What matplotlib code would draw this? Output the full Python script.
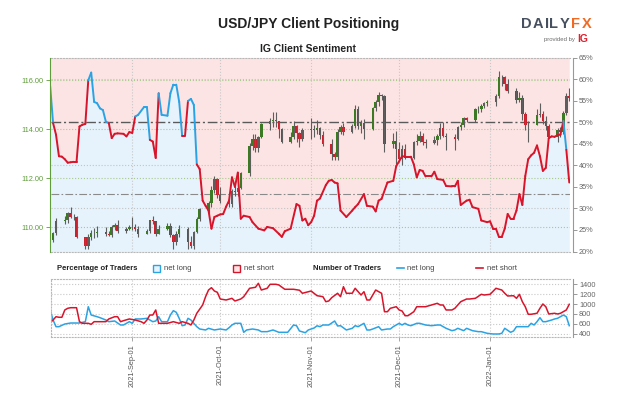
import numpy as np
import pandas as pd
import matplotlib
matplotlib.use("Agg")
import matplotlib.pyplot as plt
import matplotlib.dates as mdates
from matplotlib.collections import LineCollection
from matplotlib.patches import Rectangle
from matplotlib.lines import Line2D

plt.rcParams['font.family'] = ['Liberation Sans', 'DejaVu Sans']

# daily USD/JPY candles, 2021-08-05 .. 2022-01-28 (weekdays)
candle_dates = pd.bdate_range('2021-08-05', '2022-01-28')
opens = [
    109.48, 109.77, 110.25, 110.27, 110.58, 110.41, 110.41, 109.59, 109.24, 109.61, 109.77, 109.76, 109.79, 109.71, 109.68, 110.02, 110.09, 109.84, 109.92,
    110.02, 110.00, 109.93, 109.71, 109.84, 110.27, 110.24, 109.72, 109.93, 110.06, 109.68, 109.37, 109.72, 109.93, 109.40, 109.23, 109.78, 110.31, 110.74, 111.00, 111.50, 111.97,
    111.29, 111.05, 110.93, 111.45, 111.41, 111.61, 112.22, 113.31, 113.59, 113.24, 113.69, 114.21, 114.33, 114.38, 114.33, 113.99, 113.47, 113.68, 114.14, 113.84, 113.58,
    113.98, 114.02, 113.96, 114.03, 113.77, 113.39, 112.98, 112.85, 113.89, 114.07, 113.87, 114.11, 114.83, 114.11, 114.25, 114.00, 114.84, 115.12, 115.37, 115.36, 113.38, 113.50,
    113.17, 112.79, 113.18, 112.82, 113.45, 113.53, 113.71, 113.47, 113.41, 113.56, 113.73, 114.04, 113.72, 113.67, 113.59, 114.08, 114.16, 114.44, 114.38, 114.83, 114.83, 114.95, 115.08,
    115.09, 115.33, 116.11, 116.13, 115.85, 115.56, 115.20, 115.28, 114.63, 114.17, 114.18, 114.59, 114.60, 114.31, 114.13, 113.67, 113.98, 113.87, 114.66, 115.34,
]
highs = [
    109.80, 110.37, 110.45, 110.63, 110.80, 110.52, 110.44, 109.61, 109.70, 109.86, 109.96, 110.05, 109.98, 109.83, 110.07, 110.17, 110.27, 110.00, 110.10,
    110.42, 110.13, 110.05, 109.90, 110.30, 110.44, 110.26, 110.09, 110.16, 110.16, 109.72, 109.82, 110.08, 110.00, 109.64, 109.84, 110.39, 110.79, 111.07, 111.68, 112.08, 112.01,
    111.63, 111.17, 111.54, 111.80, 111.77, 112.25, 113.42, 113.79, 113.81, 113.72, 114.25, 114.46, 114.70, 114.69, 114.34, 114.04, 113.89, 114.31, 114.15, 113.88, 114.04,
    114.43, 114.15, 114.37, 114.07, 113.90, 113.58, 113.07, 113.99, 114.16, 114.23, 114.21, 114.97, 114.96, 114.38, 114.40, 114.90, 115.18, 115.52, 115.45, 115.40, 113.85, 113.90,
    113.49, 113.34, 113.37, 113.52, 113.81, 113.93, 113.84, 113.60, 113.70, 113.80, 114.25, 114.28, 113.83, 113.80, 114.11, 114.30, 114.50, 114.48, 114.87, 114.95, 115.04, 115.10, 115.17,
    115.42, 116.35, 116.20, 116.18, 116.04, 115.68, 115.52, 115.38, 114.71, 114.33, 114.82, 115.06, 114.73, 114.55, 114.21, 114.05, 114.08, 114.75, 115.48, 115.69,
]
lows = [
    109.40, 109.67, 110.12, 110.18, 110.35, 110.29, 109.55, 109.12, 109.11, 109.46, 109.54, 109.60, 109.64, 109.63, 109.60, 109.89, 109.77, 109.76, 109.87,
    109.86, 109.83, 109.59, 109.70, 109.77, 110.12, 109.62, 109.70, 109.88, 109.59, 109.11, 109.27, 109.61, 109.11, 109.13, 109.10, 109.74, 110.23, 110.55, 110.83, 111.38, 111.19,
    110.96, 110.82, 110.80, 111.25, 111.27, 111.56, 112.09, 113.15, 113.08, 113.06, 113.65, 113.94, 114.08, 114.07, 113.63, 113.41, 113.42, 113.60, 113.47, 113.25, 113.50,
    113.60, 113.68, 113.80, 113.58, 113.29, 112.73, 112.72, 112.72, 113.80, 113.77, 113.82, 114.06, 114.00, 113.83, 113.59, 113.96, 114.75, 114.94, 115.20, 113.05, 113.24, 112.57,
    112.65, 112.53, 112.77, 112.77, 113.33, 113.47, 113.36, 113.23, 113.38, 113.36, 113.60, 113.67, 113.14, 113.14, 113.55, 113.95, 114.10, 114.30, 114.30, 114.65, 114.71, 114.87, 114.96,
    114.96, 115.28, 115.77, 115.61, 115.48, 115.07, 115.10, 114.38, 113.98, 113.48, 114.17, 114.51, 114.20, 113.97, 113.62, 113.47, 113.69, 113.78, 114.59, 115.14,
]
closes = [
    109.77, 110.25, 110.27, 110.58, 110.41, 110.41, 109.59, 109.24, 109.61, 109.77, 109.76, 109.79, 109.71, 109.68, 110.02, 110.09, 109.84, 109.92, 110.02,
    110.00, 109.93, 109.71, 109.84, 110.27, 110.24, 109.72, 109.93, 110.06, 109.68, 109.37, 109.72, 109.93, 109.40, 109.23, 109.78, 110.31, 110.74, 111.00, 111.50, 111.97, 111.29,
    111.05, 110.93, 111.45, 111.41, 111.61, 112.22, 113.31, 113.59, 113.24, 113.69, 114.21, 114.33, 114.38, 114.33, 113.99, 113.47, 113.68, 114.14, 113.84, 113.58, 113.98,
    114.02, 113.96, 114.03, 113.77, 113.39, 112.98, 112.85, 113.89, 114.07, 113.87, 114.11, 114.83, 114.11, 114.25, 114.00, 114.84, 115.12, 115.37, 115.36, 113.38, 113.50, 113.17,
    112.79, 113.18, 112.82, 113.45, 113.53, 113.71, 113.47, 113.41, 113.56, 113.73, 114.04, 113.72, 113.67, 113.59, 114.08, 114.16, 114.44, 114.38, 114.83, 114.83, 114.95, 115.08, 115.09,
    115.33, 116.11, 116.13, 115.85, 115.56, 115.20, 115.28, 114.63, 114.17, 114.18, 114.59, 114.60, 114.31, 114.13, 113.67, 113.98, 113.87, 114.66, 115.34, 115.26,
]

# IG client sentiment: % of traders net long
sent_dates = [
    '2021-08-04', '2021-08-05', '2021-08-06', '2021-08-07', '2021-08-08', '2021-08-09', '2021-08-10', '2021-08-11', '2021-08-12', '2021-08-13',
    '2021-08-14', '2021-08-15', '2021-08-16', '2021-08-17', '2021-08-18', '2021-08-19', '2021-08-20', '2021-08-21', '2021-08-22', '2021-08-23',
    '2021-08-24', '2021-08-25', '2021-08-26', '2021-08-27', '2021-08-29', '2021-08-30', '2021-08-31', '2021-09-01', '2021-09-02', '2021-09-03',
    '2021-09-05', '2021-09-06', '2021-09-07', '2021-09-08', '2021-09-09', '2021-09-10', '2021-09-11', '2021-09-13', '2021-09-14', '2021-09-15',
    '2021-09-16', '2021-09-17', '2021-09-18', '2021-09-19', '2021-09-20', '2021-09-21', '2021-09-22', '2021-09-23', '2021-09-24', '2021-09-25',
    '2021-09-26', '2021-09-27', '2021-09-28', '2021-09-29', '2021-09-30', '2021-10-01', '2021-10-02', '2021-10-03', '2021-10-04', '2021-10-05',
    '2021-10-06', '2021-10-07', '2021-10-08', '2021-10-09', '2021-10-11', '2021-10-12', '2021-10-14', '2021-10-16', '2021-10-17', '2021-10-19',
    '2021-10-21', '2021-10-22', '2021-10-23', '2021-10-25', '2021-10-27', '2021-10-28', '2021-10-29', '2021-10-30', '2021-10-31', '2021-11-01',
    '2021-11-02', '2021-11-03', '2021-11-04', '2021-11-06', '2021-11-07', '2021-11-08', '2021-11-09', '2021-11-10', '2021-11-11', '2021-11-13',
    '2021-11-15', '2021-11-16', '2021-11-17', '2021-11-19', '2021-11-20', '2021-11-22', '2021-11-23', '2021-11-24', '2021-11-25', '2021-11-27',
    '2021-11-29', '2021-11-30', '2021-12-02', '2021-12-03', '2021-12-05', '2021-12-06', '2021-12-07', '2021-12-08', '2021-12-09', '2021-12-10',
    '2021-12-12', '2021-12-13', '2021-12-14', '2021-12-16', '2021-12-17', '2021-12-19', '2021-12-20', '2021-12-21', '2021-12-22', '2021-12-24',
    '2021-12-25', '2021-12-26', '2021-12-28', '2021-12-29', '2021-12-31', '2022-01-01', '2022-01-02', '2022-01-03', '2022-01-04', '2022-01-05',
    '2022-01-06', '2022-01-07', '2022-01-08', '2022-01-09', '2022-01-10', '2022-01-11', '2022-01-12', '2022-01-13', '2022-01-14', '2022-01-15',
    '2022-01-16', '2022-01-17', '2022-01-18', '2022-01-19', '2022-01-20', '2022-01-21', '2022-01-22', '2022-01-23', '2022-01-24', '2022-01-25',
    '2022-01-26', '2022-01-27', '2022-01-28',
]
sent_long = [
    58.4, 49.8, 47.1, 42.1, 42.0, 41.4, 40.6, 40.7, 40.8, 40.8,
    49.0, 49.4, 49.6, 59.7, 61.5, 54.7, 54.4, 53.2, 52.8, 50.1,
    49.8, 46.3, 47.3, 47.4, 47.3, 46.7, 47.7, 47.5, 51.3, 51.7,
    53.5, 53.5, 45.9, 45.5, 41.7, 56.7, 51.7, 51.5, 56.7, 58.7,
    58.7, 54.7, 46.9, 46.9, 54.9, 55.4, 54.0, 40.2, 39.1, 31.8,
    30.6, 29.5, 25.3, 28.0, 28.3, 28.6, 28.7, 30.4, 31.8, 37.2,
    35.0, 38.3, 27.6, 28.3, 28.0, 26.8, 25.3, 24.9, 25.7, 25.4,
    24.1, 23.4, 24.7, 25.3, 31.0, 30.6, 27.2, 27.6, 26.1, 26.8,
    28.3, 31.8, 32.3, 35.4, 36.4, 36.6, 36.0, 35.8, 29.5, 28.0,
    29.5, 30.3, 31.0, 33.3, 30.6, 30.4, 29.3, 31.8, 32.2, 36.0,
    36.4, 39.8, 42.1, 42.0, 42.0, 40.2, 37.2, 38.9, 38.7, 37.4,
    37.4, 38.5, 36.8, 36.6, 35.2, 35.1, 35.1, 36.4, 30.8, 31.8,
    32.0, 30.3, 29.9, 27.2, 26.8, 27.0, 25.3, 25.3, 23.4, 23.4,
    25.3, 28.7, 27.6, 27.6, 29.5, 33.3, 30.8, 37.5, 41.4, 42.3,
    42.9, 44.6, 42.1, 38.7, 39.4, 46.3, 46.7, 46.6, 47.0, 47.1,
    50.3, 43.6, 36.0,
]

# number of traders
short_dates = [
    '2021-08-04', '2021-08-05', '2021-08-06', '2021-08-07', '2021-08-08', '2021-08-09', '2021-08-10', '2021-08-11', '2021-08-13', '2021-08-14',
    '2021-08-15', '2021-08-17', '2021-08-18', '2021-08-19', '2021-08-21', '2021-08-23', '2021-08-24', '2021-08-26', '2021-08-27', '2021-08-28',
    '2021-08-29', '2021-08-31', '2021-09-02', '2021-09-04', '2021-09-05', '2021-09-06', '2021-09-07', '2021-09-08', '2021-09-09', '2021-09-10',
    '2021-09-12', '2021-09-13', '2021-09-15', '2021-09-17', '2021-09-18', '2021-09-20', '2021-09-21', '2021-09-22', '2021-09-23', '2021-09-25',
    '2021-09-26', '2021-09-27', '2021-09-28', '2021-09-29', '2021-09-30', '2021-10-01', '2021-10-03', '2021-10-05', '2021-10-06', '2021-10-08',
    '2021-10-09', '2021-10-11', '2021-10-13', '2021-10-14', '2021-10-15', '2021-10-17', '2021-10-18', '2021-10-20', '2021-10-21', '2021-10-23',
    '2021-10-25', '2021-10-26', '2021-10-28', '2021-10-29', '2021-10-31', '2021-11-01', '2021-11-03', '2021-11-05', '2021-11-06', '2021-11-07',
    '2021-11-08', '2021-11-10', '2021-11-11', '2021-11-12', '2021-11-13', '2021-11-15', '2021-11-16', '2021-11-17', '2021-11-18', '2021-11-19',
    '2021-11-20', '2021-11-21', '2021-11-23', '2021-11-24', '2021-11-25', '2021-11-26', '2021-11-27', '2021-11-28', '2021-11-30', '2021-12-01',
    '2021-12-02', '2021-12-03', '2021-12-04', '2021-12-06', '2021-12-07', '2021-12-08', '2021-12-10', '2021-12-12', '2021-12-14', '2021-12-15',
    '2021-12-16', '2021-12-17', '2021-12-19', '2021-12-20', '2021-12-22', '2021-12-24', '2021-12-25', '2021-12-27', '2021-12-29', '2021-12-30',
    '2022-01-01', '2022-01-03', '2022-01-05', '2022-01-06', '2022-01-07', '2022-01-09', '2022-01-10', '2022-01-11', '2022-01-12', '2022-01-13',
    '2022-01-14', '2022-01-15', '2022-01-17', '2022-01-18', '2022-01-19', '2022-01-20', '2022-01-21', '2022-01-23', '2022-01-24', '2022-01-25',
    '2022-01-27', '2022-01-28',
]
short_traders = [
    623, 677, 744, 732, 732, 880, 914, 926, 926, 643,
    610, 610, 590, 643, 643, 643, 698, 744, 744, 643,
    663, 698, 677, 643, 610, 677, 778, 778, 880, 610,
    610, 610, 643, 610, 643, 610, 576, 677, 813, 981,
    1149, 1284, 1331, 1264, 1238, 1102, 1082, 1116, 1062, 1102,
    1149, 1319, 1339, 1420, 1284, 1319, 1400, 1400, 1386, 1299,
    1299, 1299, 1280, 1218, 1250, 1264, 1169, 1149, 1048, 1062,
    1129, 1218, 1149, 1351, 1218, 1218, 1319, 1250, 1183, 1250,
    1082, 1082, 1284, 1250, 1218, 845, 845, 914, 946, 880,
    859, 764, 764, 845, 946, 946, 946, 981, 1015, 981,
    981, 880, 880, 914, 1048, 1102, 1102, 1116, 1197, 1183,
    1197, 1319, 1284, 1218, 1163, 1169, 1116, 1197, 1048, 946,
    793, 793, 813, 914, 1001, 946, 799, 813, 799, 813,
    880, 995,
]
long_dates = [
    '2021-08-04', '2021-08-05', '2021-08-06', '2021-08-07', '2021-08-09', '2021-08-11', '2021-08-12', '2021-08-14', '2021-08-16', '2021-08-17',
    '2021-08-18', '2021-08-20', '2021-08-21', '2021-08-23', '2021-08-24', '2021-08-26', '2021-08-28', '2021-08-29', '2021-08-31', '2021-09-01',
    '2021-09-02', '2021-09-04', '2021-09-06', '2021-09-08', '2021-09-09', '2021-09-10', '2021-09-11', '2021-09-13', '2021-09-14', '2021-09-15',
    '2021-09-16', '2021-09-17', '2021-09-18', '2021-09-19', '2021-09-20', '2021-09-21', '2021-09-23', '2021-09-24', '2021-09-26', '2021-09-27',
    '2021-09-29', '2021-10-01', '2021-10-03', '2021-10-04', '2021-10-05', '2021-10-06', '2021-10-08', '2021-10-09', '2021-10-10', '2021-10-12',
    '2021-10-14', '2021-10-15', '2021-10-17', '2021-10-19', '2021-10-21', '2021-10-22', '2021-10-24', '2021-10-26', '2021-10-27', '2021-10-28',
    '2021-10-30', '2021-10-31', '2021-11-02', '2021-11-03', '2021-11-04', '2021-11-05', '2021-11-07', '2021-11-09', '2021-11-10', '2021-11-11',
    '2021-11-13', '2021-11-15', '2021-11-16', '2021-11-17', '2021-11-19', '2021-11-20', '2021-11-21', '2021-11-22', '2021-11-24', '2021-11-25',
    '2021-11-27', '2021-11-28', '2021-11-29', '2021-11-30', '2021-12-01', '2021-12-02', '2021-12-03', '2021-12-04', '2021-12-05', '2021-12-07',
    '2021-12-08', '2021-12-10', '2021-12-12', '2021-12-14', '2021-12-15', '2021-12-17', '2021-12-19', '2021-12-20', '2021-12-21', '2021-12-23',
    '2021-12-24', '2021-12-26', '2021-12-28', '2021-12-29', '2021-12-31', '2022-01-02', '2022-01-04', '2022-01-05', '2022-01-06', '2022-01-08',
    '2022-01-09', '2022-01-10', '2022-01-12', '2022-01-14', '2022-01-15', '2022-01-16', '2022-01-17', '2022-01-18', '2022-01-19', '2022-01-20',
    '2022-01-22', '2022-01-23', '2022-01-24', '2022-01-26', '2022-01-27', '2022-01-28',
]
long_traders = [
    880, 677, 542, 542, 596, 616, 616, 616, 643, 946,
    778, 744, 724, 677, 643, 657, 576, 576, 643, 610,
    698, 698, 711, 643, 657, 744, 643, 643, 778, 866,
    833, 711, 562, 576, 711, 677, 542, 495, 475, 509,
    475, 495, 475, 521, 576, 610, 610, 428, 475, 495,
    475, 441, 441, 475, 428, 428, 428, 576, 562, 455,
    420, 475, 515, 560, 542, 576, 576, 657, 556, 562,
    475, 509, 562, 542, 610, 475, 475, 495, 542, 475,
    495, 495, 542, 576, 610, 576, 610, 576, 562, 610,
    610, 576, 562, 576, 576, 509, 461, 475, 509, 461,
    509, 461, 441, 441, 408, 394, 394, 408, 509, 428,
    455, 542, 542, 542, 610, 576, 643, 724, 643, 643,
    677, 698, 711, 778, 744, 562,
]

BLUE = '#2aa3e4'
RED = '#d8142b'
GREEN_TXT = '#5f9c3a'
GREY_TXT = '#666666'

fig = plt.figure(figsize=(6.24, 4.16), dpi=100)
L, W = 51 / 624, 519 / 624
ax = fig.add_axes([L, 1 - 251.5 / 416, W, 194 / 416])
ax_px = ax.twinx()
ax_ln = ax.twinx()
axb = fig.add_axes([L, 1 - 337 / 416, W, 58 / 416], sharex=ax)

sd = pd.to_datetime(sent_dates)
sv = np.array(sent_long)

# sentiment background
ax.fill_between(sd, sv, 20, color='#e6f3fc', lw=0)
ax.fill_between(sd, sv, 65, color='#fde4e4', lw=0)
ax.set_ylim(20, 65)
for v in (30, 40, 60):
    ax.axhline(v, color='#c4c4c4', ls=':', lw=0.8)
ax.axhline(50, color='#5a5a5a', ls=(0, (7, 2, 1.5, 2)), lw=1.0)
ax.axhline(33.3, color='#8a8a8a', ls=(0, (7, 2, 1.5, 2)), lw=0.8)

ax.set_xlim(pd.Timestamp('2021-08-04 07:00'), pd.Timestamp('2022-01-28 06:00'))
ax.xaxis.set_major_locator(mdates.MonthLocator())
ax.grid(axis='x', color='#c8c8c8', ls=':', lw=0.8)
ax.tick_params(axis='x', labelbottom=False, length=0)
ax.yaxis.tick_right()
ax.set_yticks(range(20, 66, 5))
ax.set_yticklabels([f'{v}%' for v in range(20, 66, 5)])
ax.tick_params(axis='y', colors='#888888', labelcolor=GREY_TXT, labelsize=5.3, length=3, width=0.6, pad=1.5)
ax.spines['left'].set_visible(False)
ax.spines['right'].set_color('#999999')
ax.spines['right'].set_position(('outward', 2))
for s in ('top', 'bottom'):
    ax.spines[s].set_linestyle(':')
    ax.spines[s].set_color('#b8b8b8')
    ax.spines[s].set_linewidth(0.8)

# price candles
o = np.array(opens)
h = np.array(highs)
lo = np.array(lows)
c = np.array(closes)
cols = np.where(c >= o, '#3a7b1f', '#d01f2c')
ax_px.vlines(candle_dates, lo, h, color='#5e5e5e', lw=0.8)
ax_px.bar(candle_dates, c - o, bottom=o, width=0.85, color=cols, lw=0)
ax_px.set_ylim(109.0, 116.92)
ax_px.set_yticks([110, 112, 114, 116])
ax_px.set_yticklabels([f'{v:.2f}' for v in [110, 112, 114, 116]])
ax_px.yaxis.tick_left()
ax_px.tick_params(axis='y', colors=GREEN_TXT, labelsize=5.3, length=3, width=0.6, pad=1.5)
ax_px.grid(axis='y', color='#a9c98f', ls=':', lw=0.8)
ax_px.set_axisbelow(True)
for s in ('top', 'bottom', 'right'):
    ax_px.spines[s].set_visible(False)
ax_px.spines['left'].set_color(GREEN_TXT)
ax_px.spines['left'].set_position(('outward', 1))

# sentiment line, blue while net long majority
xs = mdates.date2num(sd)
segs = [[(xs[i], sv[i]), (xs[i + 1], sv[i + 1])] for i in range(len(sv) - 1)]
seg_cols = [BLUE if sv[i] >= 50 else RED for i in range(len(sv) - 1)]
ax_ln.add_collection(LineCollection(segs, colors=seg_cols, linewidths=1.4, capstyle='round', joinstyle='round'))
ax_ln.set_ylim(20, 65)
ax_ln.axis('off')

# number of traders panel
axb.plot(pd.to_datetime(long_dates), long_traders, color=BLUE, lw=1.1)
axb.plot(pd.to_datetime(short_dates), short_traders, color=RED, lw=1.1)
axb.set_ylim(333, 1507)
axb.set_yticks(range(400, 1401, 200))
axb.yaxis.tick_right()
axb.tick_params(axis='y', colors='#888888', labelcolor=GREY_TXT, labelsize=5.3, length=3, width=0.6, pad=1.5)
axb.grid(True, color='#c8c8c8', ls=':', lw=0.8)
axb.xaxis.set_major_locator(mdates.MonthLocator())
axb.xaxis.set_major_formatter(mdates.DateFormatter('%Y-%b-%d'))
axb.tick_params(axis='x', colors='#999999', labelcolor='#555555', labelsize=5.3, length=3, width=0.6, pad=2)
for lab in axb.get_xticklabels():
    lab.set_rotation(90)
for s in ('top', 'bottom', 'left'):
    axb.spines[s].set_linestyle(':')
    axb.spines[s].set_color('#b8b8b8')
    axb.spines[s].set_linewidth(0.8)
axb.spines['right'].set_color('#999999')
axb.spines['right'].set_position(('outward', 2))

# titles
fig.text(309 / 624, 1 - 24 / 416, 'USD/JPY Client Positioning', ha='center', va='center',
         fontsize=10, fontweight='bold', color='#222222')
fig.text(308 / 624, 1 - 48.5 / 416, 'IG Client Sentiment', ha='center', va='center',
         fontsize=7.5, fontweight='bold', color='#222222')

# DailyFX logo
logo_x = [521, 532.5, 544.5, 549.5, 560, 571.5, 581.5]
for ch, lx in zip('DAILYFX', logo_x):
    fig.text(lx / 624, 1 - 24 / 416, ch, ha='left', va='center', fontsize=10.5, fontweight='bold',
             color='#f26a21' if ch in 'FX' else '#46505e')
fig.text(575 / 624, 1 - 39 / 416, 'provided by', ha='right', va='center', fontsize=4.3, color='#6b6b6b')
fig.text(577 / 624, 1 - 39 / 416, 'IG', ha='left', va='center', fontsize=7.5, fontweight='bold', color='#e2202e')

# legend row
ly = 1 - 268 / 416
fs = 5.5
fig.text(57 / 624, ly, 'Percentage of Traders', ha='left', va='center', fontsize=fs, fontweight='bold', color='#222222')
fig.patches.append(Rectangle((153 / 624, ly - 3.5 / 416), 7 / 624, 7 / 416, transform=fig.transFigure,
                             facecolor='#e6f3fc', edgecolor=BLUE, lw=1.0))
fig.text(164 / 624, ly, 'net long', ha='left', va='center', fontsize=fs, color='#444444')
fig.patches.append(Rectangle((233 / 624, ly - 3.5 / 416), 7 / 624, 7 / 416, transform=fig.transFigure,
                             facecolor='#fde4e4', edgecolor=RED, lw=1.0))
fig.text(244 / 624, ly, 'net short', ha='left', va='center', fontsize=fs, color='#444444')
fig.text(313 / 624, ly, 'Number of Traders', ha='left', va='center', fontsize=fs, fontweight='bold', color='#222222')
fig.lines.append(Line2D([397 / 624, 404 / 624], [ly, ly], transform=fig.transFigure, color=BLUE, lw=1.2))
fig.text(407 / 624, ly, 'net long', ha='left', va='center', fontsize=fs, color='#444444')
fig.lines.append(Line2D([476 / 624, 483 / 624], [ly, ly], transform=fig.transFigure, color=RED, lw=1.2))
fig.text(487 / 624, ly, 'net short', ha='left', va='center', fontsize=fs, color='#444444')

fig.savefig('out.png', dpi=100, facecolor='white')
